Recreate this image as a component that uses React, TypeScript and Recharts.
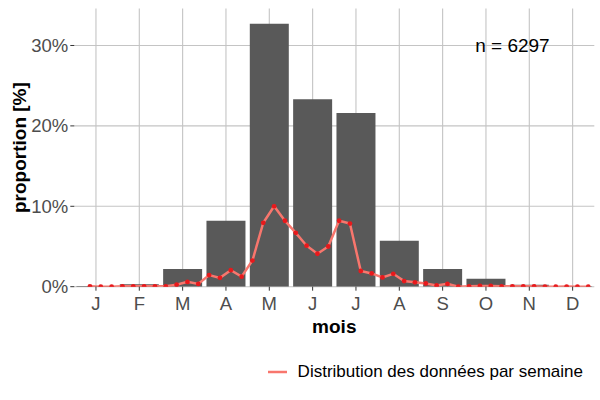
import { ComposedChart, Bar, Line, XAxis, YAxis, CartesianGrid, Legend, ReferenceDot } from 'recharts';

const moisLabels = ['J', 'F', 'M', 'A', 'M', 'J', 'J', 'A', 'S', 'O', 'N', 'D'];
const moisValues = [0.1, 0.3, 2.2, 8.2, 32.7, 23.3, 21.6, 5.7, 2.2, 1.0, 0.25, 0.05];

const semaineValues = [
  0.05, 0, 0, 0.05, 0.05, 0.05, 0.05, 0.05,
  0.25, 0.6, 0.35, 1.45, 1.1, 2.05, 1.25, 3.25,
  7.95, 10.0, 8.2, 6.7, 5.1, 4.1, 5.0,
  8.2, 7.85, 1.95, 1.65, 1.15, 1.6, 0.7, 0.55, 0.4, 0.15, 0.35,
  0, 0.05, 0.1, 0.1, 0.05, 0.05, 0.05, 0.05, 0, 0, 0.02, 0, 0,
];

const yTicks = [0, 10, 20, 30];
const nLabel = 'n = 6297';
const legendLabel = 'Distribution des données par semaine';

const moisData = moisValues.map((v, i) => ({ idx: i, label: moisLabels[i], value: v }));
const semaineData = semaineValues.map((v, i) => ({ w: i + 1, value: v }));

const font = '"Liberation Sans", Arial, sans-serif';

function YTitle(props: any) {
  const vb = props.viewBox;
  const cx = 20;
  const cy = vb.y + vb.height / 2;
  return (
    <text x={cx} y={cy} transform={`rotate(-90, ${cx}, ${cy})`} textAnchor="middle"
      dominantBaseline="central" fontSize={19} fontWeight="bold" fill="#000" fontFamily={font}>
      proportion [%]
    </text>
  );
}

function LegendBox() {
  return (
    <div style={{ display: 'flex', justifyContent: 'flex-end', alignItems: 'center', height: 30, paddingRight: 17, fontFamily: font, fontSize: 17, color: '#000' }}>
      <svg width={19} height={10} style={{ marginRight: 11 }}>
        <line x1={0} y1={5} x2={19} y2={5} stroke="#F8766D" strokeWidth={2.5} />
      </svg>
      <span>{legendLabel}</span>
    </div>
  );
}

export default function App() {
  return (
    <div style={{ position: 'absolute', left: 0, top: 0, width: 600, height: 400, background: '#fff', fontFamily: font }}>
      <ComposedChart width={600} height={400} data={moisData} barCategoryGap="5%"
        margin={{ top: 8.5, right: 5.7, left: 0, bottom: 13 }}>
        <CartesianGrid stroke="#C4C4C4" strokeWidth={1.1} syncWithTicks />
        <XAxis dataKey="idx" type="category" height={70.3} axisLine={false}
          tickFormatter={(i: number) => moisLabels[i]} tickSize={4} tickMargin={6}
          tickLine={{ stroke: '#333' }} tick={{ fontSize: 18.5, fill: '#4D4D4D', fontFamily: font }}
          interval={0}
          label={{ value: 'mois', position: 'insideBottom', offset: 24, fontSize: 19, fontWeight: 'bold', fill: '#000', fontFamily: font }} />
        <XAxis xAxisId="w" dataKey="w" type="number" scale="linear" domain={[-0.444, 47.556]} allowDataOverflow hide />
        <YAxis width={74.3} domain={[0, 34.6]} ticks={yTicks} allowDataOverflow axisLine={false}
          tickFormatter={(v: number) => `${v}%`} tickSize={4} tickMargin={2}
          tickLine={{ stroke: '#333' }} tick={{ fontSize: 18.5, fill: '#4D4D4D', fontFamily: font }}
          label={<YTitle />} />
        <Bar dataKey="value" fill="#595959" isAnimationActive={false} />
        <Line xAxisId="w" data={semaineData} dataKey="value" type="linear" stroke="#F8766D" strokeWidth={2.5}
          dot={{ r: 2.4, fill: '#E8191C', stroke: 'none' }} activeDot={false} isAnimationActive={false} legendType="none" />
        <ReferenceDot xAxisId="w" x={40} y={30} r={0} stroke="none" fill="none"
          label={{ value: nLabel, position: 'center', fontSize: 19, fill: '#000', fontFamily: font }} />
        <Legend verticalAlign="bottom" align="right" height={30} content={<LegendBox />}
          wrapperStyle={{ left: 0, width: 600 }} />
      </ComposedChart>
    </div>
  );
}
